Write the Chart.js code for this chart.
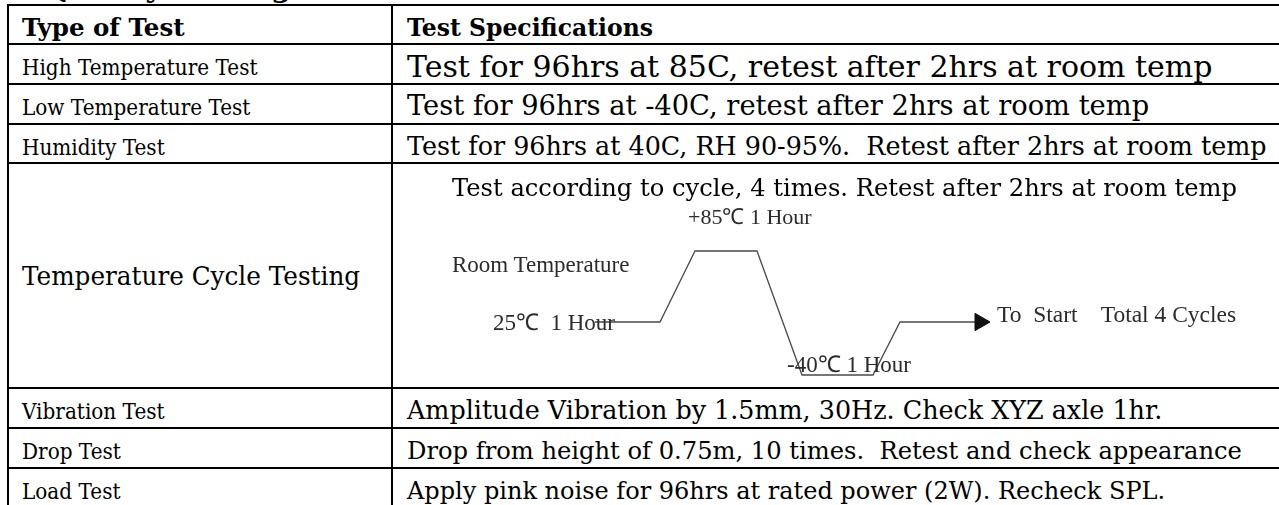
<!DOCTYPE html>
<html lang="en">
<head>
<meta charset="UTF-8">
<title>Quality Testing</title>
<script src="https://cdn.jsdelivr.net/npm/chart.js"></script>
<style>
  html, body { margin: 0; padding: 0; background: #fff; }
  #page { position: relative; width: 1279px; height: 505px; overflow: hidden; font-family: "DejaVu Serif", serif; color: #000; }
  .hline { position: absolute; height: 2px; background: #000; }
  .vline { position: absolute; width: 2px; background: #000; }
  .cell { position: absolute; white-space: pre; line-height: 1; transform-origin: 0 50%; }
  .note { position: absolute; white-space: pre; line-height: 1; font-family: "Liberation Serif", serif; color: #2b2b2b; }
  #title { position: absolute; left: 45px; font-weight: bold; font-size: 29px; white-space: pre; line-height: 1; }
  #cycleBox { position: absolute; left: 392px; top: 163px; width: 887px; height: 225px; }
</style>
</head>
<body>
<div id="page">
  <div id="title">Quality Testing</div>
  <div id="cycleBox"><canvas id="cycleChart"></canvas></div>
</div>
<script>
// table text
const testTypes = ['Type of Test', 'High Temperature Test', 'Low Temperature Test', 'Humidity Test',
  'Temperature Cycle Testing', 'Vibration Test', 'Drop Test', 'Load Test'];
const testSpecs = ['Test Specifications',
  'Test for 96hrs at 85C, retest after 2hrs at room temp',
  'Test for 96hrs at -40C, retest after 2hrs at room temp',
  'Test for 96hrs at 40C, RH 90-95%.  Retest after 2hrs at room temp',
  'Test according to cycle, 4 times. Retest after 2hrs at room temp',
  'Amplitude Vibration by 1.5mm, 30Hz. Check XYZ axle 1hr.',
  'Drop from height of 0.75m, 10 times.  Retest and check appearance',
  'Apply pink noise for 96hrs at rated power (2W). Recheck SPL.'];

// temperature cycle profile (schematic time units, degrees C)
const cycleTime = [2.03, 2.68, 3.03, 3.65, 4.10, 4.81, 5.08, 5.88];
const cycleTemp = [25, 25, 85, 85, -40, -40, 25, 25];
const cycleNotes = ['+85\u2103 1 Hour', 'Room Temperature', '25\u2103  1 Hour', '-40\u2103 1 Hour', 'To  Start    Total 4 Cycles'];

// layout
const rowLines = [5, 44, 84, 124, 163, 388, 428, 468, 508];
const baseOffset = [32, 31, 31, 31, 0, 31, 31, 31];
const colX = [8, 392];
const textX = [22, 407];
const typeSize = [24.5, 22.5, 22.5, 22.5, 26, 22.5, 22.5, 22.5];
const typeScale = [1, 0.89, 0.89, 0.89, 0.95, 0.89, 0.89, 0.89];
const specSize = [23.5, 30, 27.3, 25.4, 24.2, 25.4, 24.2, 24];
const notePos = [[688, 224, 22], [452, 272, 23], [493, 330, 23], [787, 372, 23], [997, 323, 23.5]];
const captionPos = [452, 196];
const tempStops = [[-40, 13 / 225], [25, 66 / 225], [85, 137 / 225]];

const page = document.getElementById('page');
document.getElementById('title').style.top = (-2 - 0.846 * 29) + 'px';

function add(cls, css, text) {
  const el = document.createElement('div');
  el.className = cls;
  Object.assign(el.style, css);
  if (text !== undefined) el.textContent = text;
  page.appendChild(el);
  return el;
}

rowLines.forEach(y => add('hline', {left: '7px', width: '1300px', top: (y - 1) + 'px'}));
colX.forEach(x => add('vline', {left: (x - 1) + 'px', top: '4px', height: '520px'}));

testTypes.forEach((t, i) => {
  const top = rowLines[i], h = rowLines[i + 1] - top;
  const base = baseOffset[i] || (h / 2 + 9);
  add('cell', {left: textX[0] + 'px', top: (top + base - 0.846 * typeSize[i]) + 'px', fontSize: typeSize[i] + 'px',
    fontWeight: i === 0 ? 'bold' : 'normal', transform: 'scaleX(' + typeScale[i] + ')'}, t);
  if (i === 4) {
    add('cell', {left: captionPos[0] + 'px', top: (captionPos[1] - 0.846 * specSize[i]) + 'px',
      fontSize: specSize[i] + 'px'}, testSpecs[i]);
  } else {
    add('cell', {left: textX[1] + 'px', top: (top + base + (i === 1 ? 2 : 0) - 0.846 * specSize[i]) + 'px',
      fontSize: specSize[i] + 'px', fontWeight: i === 0 ? 'bold' : 'normal'}, testSpecs[i]);
  }
});

cycleNotes.forEach((n, i) => {
  const [x, b, fs] = notePos[i];
  add('note', {left: x + 'px', top: (b - 0.8375 * fs) + 'px', fontSize: fs + 'px'}, n);
});

// y scale that keeps the schematic spacing of the three temperature levels
class TempScale extends Chart.LinearScale {
  getPixelForValue(value) {
    let i = 1;
    while (i < tempStops.length - 1 && value > tempStops[i][0]) i++;
    const [v0, f0] = tempStops[i - 1], [v1, f1] = tempStops[i];
    const f = f0 + (value - v0) / (v1 - v0) * (f1 - f0);
    return this.bottom - f * (this.bottom - this.top);
  }
}
TempScale.id = 'temp';
TempScale.defaults = Chart.LinearScale.defaults;
Chart.register(TempScale);

const last = cycleTime.length - 1;
new Chart(document.getElementById('cycleChart'), {
  type: 'scatter',
  data: {
    datasets: [{
      data: cycleTime.map((t, i) => ({x: t, y: cycleTemp[i]})),
      showLine: true,
      borderColor: '#4a4a4a',
      borderWidth: 1.3,
      tension: 0,
      pointRadius: cycleTime.map((_, i) => i === last ? 10 : 0),
      pointStyle: 'triangle',
      pointRotation: 90,
      pointBackgroundColor: '#111',
      pointBorderColor: '#111',
      pointBorderWidth: 1
    }]
  },
  options: {
    responsive: true,
    maintainAspectRatio: false,
    animation: false,
    events: [],
    clip: false,
    layout: {padding: 0, autoPadding: false},
    plugins: {legend: {display: false}, tooltip: {enabled: false}},
    scales: {
      x: {type: 'linear', display: false, min: 0, max: 8.87},
      y: {type: 'temp', display: false, min: -60, max: 150}
    }
  }
});
</script>
</body>
</html>
